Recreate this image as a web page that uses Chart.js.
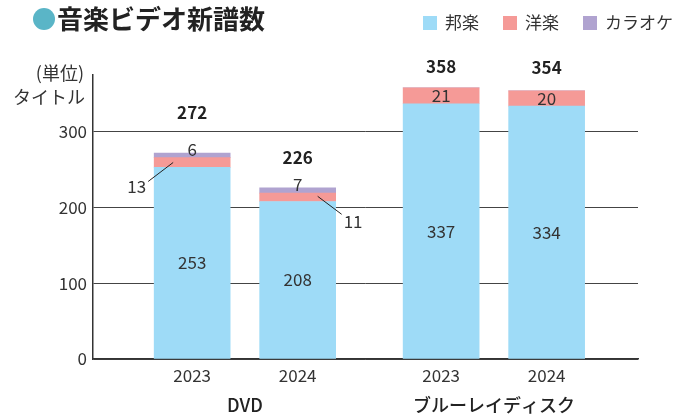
<!DOCTYPE html>
<html><head><meta charset="utf-8">
<script src="https://cdn.jsdelivr.net/npm/chart.js@4"></script>
<style>html,body{margin:0;padding:0;background:#fff}#wrap{width:694px;height:418px}</style>
</head><body><div id="wrap"><canvas id="c" width="694" height="418"></canvas></div>
<script>
const categories = ['2023', '2024', '2023', '2024'];
const groups = ['DVD', 'ブルーレイディスク'];
const seriesNames = ['邦楽', '洋楽', 'カラオケ'];
const hougaku = [253, 208, 337, 334];
const yougaku = [13, 11, 21, 20];
const karaoke = [6, 7, 0, 0];
const totals = [272, 226, 358, 354];
const yTicks = [0, 100, 200, 300];
const titleText = '音楽ビデオ新譜数';
const unitLines = ['(単位)', 'タイトル'];

const colors = ['#9edbf7', '#f59a97', '#b0a3d0'];
const FONT = '"Noto Sans CJK JP", "Noto Sans", sans-serif';
const TXT = '#333';

// layout of slots on linear x (group gap)
const slot = i => 0.94 + i + (i >= 2 ? 0.36 : 0);
const XMAX = 5.166;
const groupCenters = [ (slot(0) + slot(1)) / 2, (slot(2) + slot(3)) / 2 ];
const toPts = arr => arr.map((v, i) => ({ x: slot(i), y: v }));

const labelPlugin = {
  id: 'labels',
  afterDraw(chart) {
    const ctx = chart.ctx;
    ctx.save();
    // title
    ctx.fillStyle = '#5ab5c7';
    ctx.beginPath(); ctx.arc(44, 19, 11, 0, Math.PI * 2); ctx.fill();
    ctx.fillStyle = '#222';
    ctx.font = 'bold 26px ' + FONT;
    ctx.textBaseline = 'middle'; ctx.textAlign = 'left';
    ctx.fillText(titleText, 57, 19);
    // legend
    const legX = [423, 503, 583];
    ctx.font = '17px ' + FONT;
    seriesNames.forEach((n, i) => {
      ctx.fillStyle = colors[i];
      ctx.fillRect(legX[i], 16, 14, 14);
      ctx.fillStyle = TXT;
      ctx.fillText(n, legX[i] + 22, 23);
    });
    // unit
    ctx.textAlign = 'right';
    ctx.font = '18px ' + FONT;
    ctx.fillText(unitLines[0], 84, 73);
    ctx.fillText(unitLines[1], 85, 97);

    const m0 = chart.getDatasetMeta(0).data;
    const m1 = chart.getDatasetMeta(1).data;
    const m2 = chart.getDatasetMeta(2).data;
    ctx.textAlign = 'center';
    ctx.font = '17px ' + FONT;
    ctx.fillStyle = TXT;
    // 邦楽 labels
    m0.forEach((b, i) => {
      ctx.fillText(String(hougaku[i]), b.x, (b.y + b.base) / 2);
    });
    // 洋楽 labels
    m1.forEach((b, i) => {
      const v = String(yougaku[i]);
      const my = (b.y + b.base) / 2;
      if (karaoke[i] > 0) {
        ctx.strokeStyle = '#222'; ctx.lineWidth = 1;
        ctx.beginPath();
        if (i === 0) {
          ctx.moveTo(b.x - 19, my); ctx.lineTo(b.x - 44, my + 19);
          ctx.stroke();
          ctx.textAlign = 'right';
          ctx.fillText(v, b.x - 46, my + 24);
        } else {
          ctx.moveTo(b.x + 20, my - 1); ctx.lineTo(b.x + 44, my + 17);
          ctx.stroke();
          ctx.textAlign = 'left';
          ctx.fillText(v, b.x + 46, my + 24);
        }
        ctx.textAlign = 'center';
      } else {
        ctx.fillText(v, b.x, my);
      }
    });
    // カラオケ labels
    ctx.textBaseline = 'alphabetic';
    m2.forEach((b, i) => {
      if (karaoke[i] > 0) ctx.fillText(String(karaoke[i]), b.x, b.y + 3);
    });
    // totals
    ctx.textBaseline = 'middle';
    ctx.font = 'bold 17px ' + FONT;
    ctx.fillStyle = '#222';
    const offs = [40, 30, 21, 23];
    m2.forEach((b, i) => {
      ctx.fillText(String(totals[i]), b.x, b.y - offs[i]);
    });
    ctx.restore();
  }
};

Chart.defaults.font.family = FONT;
Chart.defaults.color = TXT;

new Chart(document.getElementById('c'), {
  type: 'bar',
  data: {
    datasets: [
      { label: seriesNames[0], data: toPts(hougaku), backgroundColor: colors[0] },
      { label: seriesNames[1], data: toPts(yougaku), backgroundColor: colors[1] },
      { label: seriesNames[2], data: toPts(karaoke), backgroundColor: colors[2] }
    ]
  },
  options: {
    responsive: false,
    animation: false,
    barThickness: 76,
    layout: { padding: { left: 0, right: 56, top: 75, bottom: 0 } },
    plugins: { legend: { display: false }, tooltip: { enabled: false } },
    scales: {
      x: {
        type: 'linear', min: 0, max: XMAX, stacked: true, weight: 0, offset: false,
        grid: { display: false, drawTicks: false },
        border: { color: '#333', width: 1.5 },
        afterBuildTicks: a => { a.ticks = categories.map((_, i) => ({ value: slot(i) })); },
        afterFit: a => { a.height = 30; },
        ticks: { autoSkip: false, maxRotation: 0, padding: 6, font: { size: 17 }, color: TXT,
          callback: (v, idx) => categories[idx] }
      },
      x2: {
        type: 'linear', min: 0, max: XMAX, position: 'bottom', weight: 1, offset: false,
        grid: { display: false, drawTicks: false },
        border: { display: false },
        afterBuildTicks: a => { a.ticks = groupCenters.map(v => ({ value: v })); },
        afterFit: a => { a.height = 29; },
        ticks: { autoSkip: false, maxRotation: 0, padding: 5, font: { size: 18, weight: '500' }, color: '#222',
          callback: (v, idx) => groups[idx] }
      },
      y: {
        min: 0, max: 375, stacked: true,
        grid: { color: '#444', lineWidth: 1, drawTicks: false },
        border: { color: '#333', width: 1.5 },
        afterBuildTicks: a => { a.ticks = yTicks.map(v => ({ value: v })); },
        afterFit: a => { a.width = 93; },
        ticks: { padding: 6, font: { size: 17 }, color: TXT }
      }
    }
  },
  plugins: [labelPlugin]
});
</script></body></html>
